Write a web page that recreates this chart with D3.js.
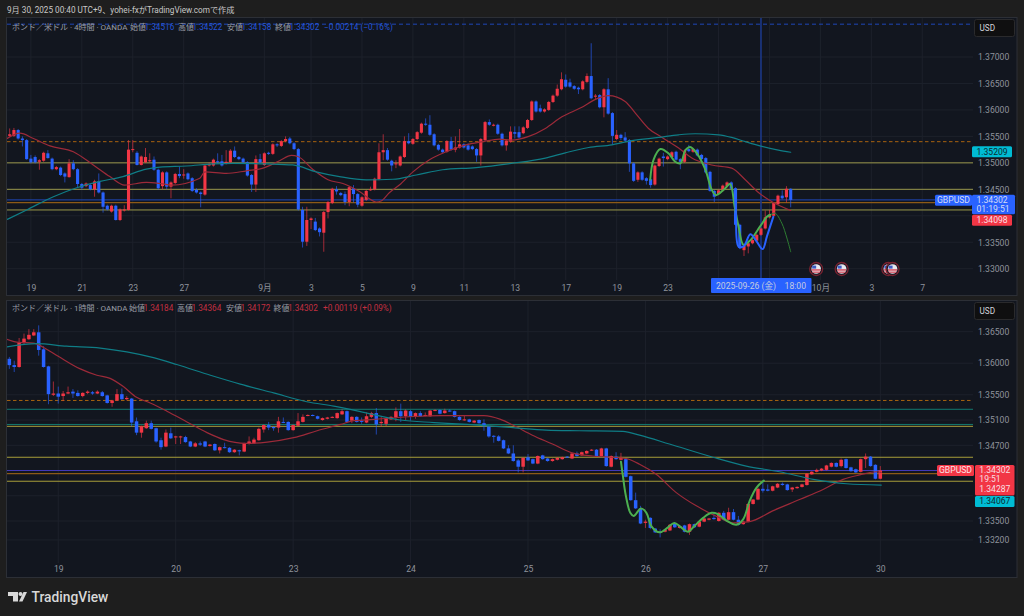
<!DOCTYPE html>
<html><head><meta charset="utf-8">
<script src="https://cdn.jsdelivr.net/npm/d3@7"></script>
<style>
html,body{margin:0;padding:0;background:#1e1e1e;overflow:hidden}
svg{display:block}
text{font-family:Roboto,"Noto Sans CJK JP",sans-serif}
</style></head><body><div id="c"></div>
<script>
// Prices are stored in units of 0.0001 (13430 = 1.34300)
const topOpen=[13551,13551,13562,13546,13543,13508,13511,13502,13504,13518,
13508,13488,13491,13480,13473,13499,13488,13460,13456,13458,
13450,13465,13444,13419,13408,13419,13392,13410,13411,13525,
13519,13496,13501,13503,13506,13487,13456,13482,13455,13462,
13479,13477,13480,13471,13449,13444,13440,13495,13495,13503,
13503,13499,13501,13523,13511,13508,13501,13477,13459,13507,
13496,13519,13517,13535,13532,13541,13546,13537,13526,13411,
13351,13392,13389,13376,13368,13407,13424,13450,13443,13441,
13426,13452,13441,13419,13430,13449,13450,13469,13520,13524,
13504,13498,13495,13511,13541,13536,13545,13557,13574,13572,
13554,13534,13525,13521,13541,13525,13529,13535,13533,13531,
13526,13514,13543,13577,13571,13572,13555,13533,13540,13558,
13558,13556,13566,13581,13616,13603,13597,13600,13615,13627,
13639,13657,13652,13645,13642,13639,13653,13664,13625,13628,
13605,13639,13594,13545,13553,13548,13543,13499,13468,13482,
13471,13469,13459,13494,13512,13507,13511,13521,13507,13502,
13526,13521,13525,13515,13509,13483,13447,13441,13448,13456,
13463,13452,13383,13335,13342,13348,13353,13364,13376,13397,
13400,13422,13438,13435,13451];
const topClose=[13554,13562,13546,13543,13507,13501,13501,13505,13519,13509,
13488,13492,13477,13474,13499,13488,13460,13453,13461,13450,
13465,13444,13417,13412,13419,13392,13412,13412,13525,13526,
13496,13512,13511,13505,13487,13452,13482,13455,13463,13479,
13475,13478,13469,13447,13444,13441,13495,13498,13506,13502,
13495,13502,13523,13511,13507,13501,13476,13459,13507,13501,
13518,13517,13535,13533,13541,13545,13537,13526,13412,13351,
13392,13395,13373,13369,13407,13426,13451,13446,13439,13426,
13454,13441,13421,13435,13447,13450,13470,13520,13524,13506,
13495,13499,13512,13541,13537,13545,13558,13574,13572,13553,
13533,13525,13520,13541,13525,13529,13535,13529,13525,13526,
13514,13545,13577,13572,13572,13555,13533,13542,13559,13555,
13548,13567,13581,13616,13597,13597,13601,13615,13627,13640,
13658,13644,13644,13640,13639,13654,13664,13622,13627,13605,
13639,13593,13551,13553,13547,13542,13499,13466,13482,13468,
13466,13458,13495,13508,13509,13512,13520,13506,13502,13523,
13522,13526,13514,13507,13482,13447,13436,13448,13457,13463,
13451,13383,13339,13343,13348,13354,13364,13376,13397,13402,
13424,13438,13433,13451,13430];
const topHigh=[13565,13566,13564,13550,13545,13515,13514,13507,13521,13524,
13510,13494,13493,13482,13507,13505,13490,13462,13463,13460,
13468,13480,13446,13421,13421,13421,13414,13420,13543,13543,
13522,13514,13528,13518,13512,13489,13484,13484,13465,13481,
13493,13488,13482,13473,13452,13446,13497,13501,13508,13518,
13515,13524,13526,13531,13513,13510,13503,13479,13514,13517,
13520,13521,13537,13537,13543,13550,13549,13539,13528,13417,
13417,13397,13396,13378,13409,13428,13453,13456,13445,13446,
13456,13458,13443,13437,13449,13455,13472,13537,13554,13528,
13506,13505,13514,13550,13556,13547,13560,13576,13584,13590,
13556,13536,13527,13543,13549,13550,13564,13537,13537,13533,
13528,13547,13579,13582,13574,13574,13557,13544,13569,13569,
13569,13569,13583,13618,13618,13610,13603,13617,13629,13648,
13671,13667,13659,13647,13644,13656,13669,13726,13630,13630,
13641,13660,13596,13562,13555,13558,13545,13501,13484,13484,
13473,13471,13497,13510,13519,13514,13522,13523,13509,13525,
13534,13528,13527,13517,13511,13485,13449,13450,13459,13465,
13465,13454,13385,13345,13352,13356,13366,13378,13410,13411,
13426,13440,13448,13456,13452];
const topLow=[13549,13549,13544,13531,13506,13499,13499,13487,13502,13508,
13486,13486,13475,13463,13472,13486,13453,13449,13454,13448,
13436,13442,13406,13410,13406,13391,13390,13408,13410,13520,
13495,13495,13500,13501,13485,13449,13450,13450,13433,13460,
13471,13470,13467,13445,13442,13416,13438,13493,13493,13498,
13493,13497,13499,13509,13505,13499,13474,13445,13445,13499,
13494,13515,13515,13530,13530,13539,13535,13524,13410,13340,
13343,13375,13371,13361,13332,13395,13422,13440,13437,13420,
13418,13425,13416,13417,13428,13447,13448,13467,13505,13504,
13484,13490,13493,13509,13535,13534,13543,13555,13570,13551,
13531,13523,13518,13519,13523,13520,13527,13527,13523,13524,
13502,13495,13541,13570,13569,13553,13531,13523,13538,13546,
13546,13554,13564,13579,13595,13595,13595,13598,13613,13625,
13637,13642,13642,13638,13630,13637,13651,13620,13619,13603,
13586,13591,13534,13543,13543,13540,13483,13464,13464,13466,
13459,13453,13457,13492,13493,13505,13509,13504,13488,13500,
13520,13519,13512,13505,13480,13445,13426,13439,13446,13454,
13449,13381,13337,13324,13329,13346,13351,13362,13374,13395,
13398,13420,13431,13425,13416];

const botOpen=[13607,13597,13594,13633,13638,13644,13649,13622,13595,13550,
13552,13548,13552,13555,13553,13548,13553,13554,13552,13554,
13549,13537,13541,13551,13543,13544,13508,13490,13497,13505,
13497,13478,13468,13489,13483,13483,13483,13476,13468,13473,
13476,13469,13472,13462,13467,13466,13459,13462,13460,13472,
13473,13478,13495,13502,13499,13498,13507,13507,13494,13501,
13507,13517,13518,13516,13510,13512,13514,13513,13519,13524,
13509,13515,13509,13506,13515,13521,13505,13504,13511,13514,
13524,13516,13524,13515,13521,13517,13516,13525,13526,13521,
13525,13524,13515,13510,13511,13506,13510,13505,13500,13485,
13484,13478,13465,13457,13446,13436,13451,13448,13441,13454,
13449,13445,13447,13448,13452,13449,13457,13454,13457,13462,
13463,13453,13465,13436,13452,13447,13448,13421,13383,13370,
13347,13355,13338,13333,13333,13335,13346,13339,13343,13333,
13345,13341,13349,13352,13355,13350,13363,13352,13364,13352,
13345,13349,13377,13384,13401,13400,13398,13403,13409,13408,
13400,13402,13404,13407,13424,13428,13430,13431,13436,13442,
13437,13448,13435,13432,13428,13448,13452,13439,13417];
const botClose=[13597,13594,13633,13639,13645,13649,13621,13594,13551,13552,
13547,13552,13554,13552,13548,13553,13555,13552,13555,13548,
13537,13541,13551,13543,13545,13506,13490,13500,13505,13496,
13476,13467,13490,13481,13484,13484,13475,13468,13473,13471,
13468,13471,13462,13467,13466,13459,13463,13461,13473,13476,
13479,13496,13502,13498,13497,13508,13506,13494,13502,13508,
13515,13518,13517,13512,13513,13514,13515,13521,13524,13507,
13515,13507,13507,13516,13521,13503,13507,13513,13515,13524,
13516,13525,13515,13521,13516,13518,13525,13526,13520,13525,
13524,13515,13510,13511,13507,13509,13505,13500,13484,13484,
13477,13465,13457,13445,13436,13450,13446,13441,13453,13448,
13445,13448,13450,13451,13451,13457,13453,13459,13461,13463,
13453,13465,13437,13453,13448,13450,13420,13383,13370,13346,
13349,13339,13332,13331,13336,13344,13340,13342,13333,13345,
13340,13349,13354,13354,13353,13363,13352,13364,13352,13344,
13349,13377,13384,13401,13398,13398,13405,13409,13407,13399,
13403,13404,13408,13425,13428,13431,13433,13438,13442,13436,
13447,13434,13429,13427,13448,13452,13437,13417,13430];
const botHigh=[13610,13604,13640,13647,13654,13654,13660,13627,13596,13571,
13563,13556,13563,13559,13557,13554,13557,13556,13557,13556,
13550,13542,13559,13560,13548,13545,13514,13501,13509,13509,
13498,13482,13495,13498,13485,13485,13485,13477,13475,13476,
13477,13472,13473,13468,13474,13467,13464,13463,13474,13484,
13482,13498,13503,13507,13500,13515,13514,13508,13503,13521,
13519,13519,13519,13517,13514,13515,13516,13522,13527,13525,
13516,13516,13514,13522,13523,13529,13515,13514,13516,13530,
13536,13527,13526,13522,13524,13522,13526,13527,13527,13528,
13527,13525,13516,13518,13512,13510,13511,13511,13501,13486,
13486,13479,13470,13470,13448,13451,13456,13449,13454,13455,
13450,13449,13451,13452,13453,13458,13460,13460,13462,13464,
13464,13466,13466,13454,13459,13458,13450,13422,13395,13374,
13352,13356,13339,13337,13337,13345,13348,13343,13344,13346,
13346,13350,13355,13355,13363,13364,13366,13371,13369,13358,
13350,13378,13385,13403,13411,13408,13406,13410,13411,13409,
13404,13405,13409,13426,13429,13433,13434,13439,13443,13443,
13449,13449,13436,13433,13449,13457,13453,13440,13437];
const botLow=[13591,13586,13593,13630,13637,13643,13612,13593,13535,13548,
13536,13540,13551,13545,13547,13546,13551,13550,13551,13547,
13536,13531,13540,13542,13541,13500,13486,13482,13496,13495,
13474,13463,13467,13480,13472,13472,13474,13467,13467,13469,
13467,13468,13461,13457,13465,13458,13458,13454,13459,13471,
13472,13477,13490,13494,13493,13490,13505,13493,13493,13500,
13506,13516,13516,13511,13509,13511,13513,13512,13518,13506,
13505,13506,13504,13505,13513,13487,13499,13500,13510,13508,
13507,13510,13509,13512,13515,13516,13515,13524,13519,13520,
13523,13514,13509,13509,13506,13505,13504,13493,13482,13474,
13476,13464,13456,13444,13427,13427,13445,13440,13440,13447,
13444,13444,13446,13447,13450,13448,13452,13453,13456,13461,
13452,13452,13436,13435,13447,13446,13419,13382,13369,13345,
13339,13337,13331,13324,13332,13334,13339,13338,13332,13328,
13339,13340,13348,13351,13352,13349,13351,13351,13351,13343,
13344,13348,13376,13383,13395,13397,13397,13402,13406,13398,
13396,13401,13403,13406,13423,13427,13429,13430,13435,13435,
13435,13433,13428,13426,13427,13434,13436,13416,13416];

// Overlay lines: [candle position, price]
const topRedMA=[[-0.6,13546],[2.4,13556],[5.6,13546],[9.5,13532],[15,13521],[19.7,13496],[23.6,13474],[27.1,13458],[32.2,13463],[35.4,13461],[38.1,13458],[44.8,13471],[46,13483],[51,13480],[55.8,13485],[59.7,13490],[63.6,13504],[66.4,13514],[67.9,13512],[71.5,13487],[75,13468],[78.5,13461],[82.4,13446],[86.4,13426],[87.5,13428],[89.5,13444],[91.8,13458],[95,13483],[98.9,13506],[102.8,13521],[107.5,13534],[111.5,13540],[115.4,13545],[118.2,13543],[122.3,13550],[126.2,13565],[130.1,13587],[134.8,13605],[138,13620],[141.1,13627],[145,13616],[147.4,13594],[150.5,13565],[153.7,13548],[157.6,13528],[160.7,13509],[165.4,13496],[170.1,13490],[173.3,13468],[176.4,13444],[179.5,13427],[184,13410]];
const topTealMA=[[-0.6,13393],[4,13411],[10.3,13436],[15.8,13453],[21.3,13465],[26.7,13474],[32.2,13488],[35.4,13492],[41.6,13494],[47.9,13498],[52.6,13499],[60.5,13498],[66.7,13496],[72.2,13483],[77.7,13474],[84,13468],[90.3,13469],[95.8,13477],[102,13487],[109.9,13491],[118.2,13499],[126.2,13509],[130.9,13519],[136.4,13529],[141.9,13534],[146.6,13542],[152.9,13548],[157.6,13553],[161.5,13555],[167,13553],[170.1,13548],[173.3,13540],[177.2,13531],[181.1,13524],[184,13520]];
const topGreenThick=[[150.9,13468],[151.7,13506],[153.3,13526],[155.2,13518],[156.8,13502],[158,13499],[159.2,13524],[160.3,13530],[161.9,13518],[163.9,13487],[165.4,13449],[166.4,13439],[168.2,13449],[169.7,13460],[170.8,13417],[171.7,13380],[172.9,13345],[174.5,13354],[176.8,13380],[178.4,13398],[179.2,13402]];
const topGreenThin=[[179.2,13402],[180.3,13405],[181.9,13386],[183.1,13358],[184,13332]];
const topBlueThick=[[170.8,13449],[171.1,13405],[171.7,13342],[172.9,13342],[174.5,13365],[176,13351],[177.4,13337],[178.4,13361],[179.9,13398]];

const botRedMA=[[-0.5,13638],[2,13633],[4.9,13632],[7,13625],[10,13611],[14.5,13591],[17.9,13581],[20.6,13576],[23.3,13563],[26,13546],[28.8,13537],[32.2,13524],[36.3,13507],[40.4,13490],[43.8,13479],[48.2,13473],[52.7,13475],[58.1,13482],[62.9,13493],[67.7,13503],[70.4,13509],[74.5,13511],[79.3,13514],[84,13516],[88.1,13517],[92.2,13517],[97,13517],[100.4,13511],[102.9,13502],[106.9,13486],[111,13472],[115,13458],[119.2,13453],[123.3,13451],[126,13449],[128.8,13440],[132.2,13424],[136.3,13395],[140.4,13374],[145.2,13355],[147.9,13347],[151.3,13349],[156,13366],[161.5,13384],[166.3,13400],[170.4,13416],[173.8,13423],[177.2,13428],[178.2,13427]];
const botTealMA=[[-0.5,13626],[5.6,13631],[11.7,13627],[18.6,13624],[24,13618],[28.8,13610],[34.2,13598],[41.1,13581],[47.2,13567],[54,13553],[60.8,13539],[66.3,13532],[73.1,13521],[79.9,13510],[86.8,13506],[93.6,13503],[102.9,13498],[109.7,13494],[116.5,13493],[125.4,13492],[128.8,13486],[134.9,13472],[143.8,13451],[150.6,13437],[157.4,13428],[164.3,13416],[171.1,13409],[178.2,13407]];
const botGreenThick=[[125,13444],[125.4,13421],[126,13390],[126.9,13363],[127.6,13358],[129.1,13370],[130.2,13363],[131.2,13342],[132.9,13332],[134.6,13340],[135.9,13347],[137.3,13340],[138.7,13333],[140,13342],[141.8,13355],[143.5,13363],[144.8,13361],[146.5,13351],[148.6,13344],[150,13353],[151.3,13382],[152.7,13403],[154.2,13414]];

// Horizontal levels
const topYellow=[13500,13450,13411], topOrange=[13425], topOrangeDash=[13540], topBlueLine=[13430], topBlueDash=[13762];
const botYellow=[13500,13451,13413], botTeal=[13527,13503], botOrange=[13425], botOrangeDash=[13541], botPurple=[13430];

// Axis ticks
const topPriceTicks=[13700,13650,13600,13550,13500,13450,13350,13300];
const topPriceGrid=[13700,13650,13600,13550,13500,13450,13400,13350,13300];
const botPriceTicks=[13650,13600,13550,13510,13470,13350,13320];
const botPriceGrid=[13650,13600,13550,13510,13470,13430,13390,13350,13320];
const topTimePos=[5,17,29,41,60,71,83,95,107,119,131,143,155,191,203,215];
const topTimeLabels=["19","21","23","27","9月","3","5","9","11","13","17","19","23","10月","3","7"];
const topTimeGridExtra=[167,179];
const botTimePos=[10,34,58,82,106,130,154,178];
const botTimeLabels=["19","20","23","24","25","26","27","30"];
const flagPos=[190,196,207,208];
const crossPos=177;

const W=1024,H=616;
const RED="#f23645",BLUE="#2962ff",PANE="#12161f";
const svg=d3.select("#c").append("svg").attr("width",W).attr("height",H);
svg.append("rect").attr("width",W).attr("height",H).attr("fill","#1e1e1e");

function pane(cfg){
  const g=svg.append("g");
  g.append("rect").attr("x",6.5).attr("y",cfg.top+.5).attr("width",1010.5).attr("height",cfg.bottom-cfg.top)
    .attr("fill",PANE).attr("stroke","#2c2f36");
  const x=d3.scaleLinear().domain(cfg.xd).range(cfg.xr);
  const y=d3.scaleLinear().domain(cfg.yd).range(cfg.yr);
  const id=cfg.id;
  g.append("clipPath").attr("id",id).append("rect").attr("x",7).attr("y",cfg.top+1).attr("width",966).attr("height",cfg.plotBottom-cfg.top-1);
  const plot=g.append("g").attr("clip-path",`url(#${id})`);
  // grid
  plot.selectAll(".gh").data(cfg.grid).join("line").attr("x1",7).attr("x2",973).attr("y1",d=>y(d)).attr("y2",d=>y(d)).attr("stroke","#1d212b");
  plot.selectAll(".gv").data(cfg.timePos.concat(cfg.gridExtra||[])).join("line").attr("y1",cfg.top).attr("y2",cfg.plotBottom).attr("x1",d=>x(d)).attr("x2",d=>x(d)).attr("stroke","#1d212b");
  // levels
  cfg.levels.forEach(l=>{
    plot.selectAll(null).data(l.v).join("line").attr("x1",7).attr("x2",973).attr("y1",d=>y(d)).attr("y2",d=>y(d))
      .attr("stroke",l.c).attr("stroke-width",l.w||1).attr("stroke-dasharray",l.dash||null);
  });
  if(cfg.cross!=null) plot.append("line").attr("x1",x(cfg.cross)).attr("x2",x(cfg.cross)).attr("y1",cfg.top).attr("y2",cfg.plotBottom).attr("stroke","#1c3888").attr("stroke-width",1.6);
  // candles
  const n=cfg.o.length, idx=d3.range(n);
  const col=i=>cfg.c[i]>=cfg.o[i]?RED:BLUE;
  plot.selectAll(".w").data(idx).join("line").attr("x1",d=>x(d)).attr("x2",d=>x(d)).attr("y1",i=>y(cfg.h[i])).attr("y2",i=>y(cfg.l[i])).attr("stroke",col).attr("stroke-width",.8).attr("stroke-opacity",.8);
  plot.selectAll(".b").data(idx).join("rect").attr("x",i=>x(i)-cfg.bw/2).attr("width",cfg.bw)
    .attr("y",i=>y(Math.max(cfg.o[i],cfg.c[i]))).attr("height",i=>Math.max(1,Math.abs(y(cfg.o[i])-y(cfg.c[i])))).attr("fill",col);
  // overlays
  const ln=d3.line().x(d=>x(d[0])).y(d=>y(d[1])).curve(d3.curveMonotoneX);
  const sm=d3.line().x(d=>x(d[0])).y(d=>y(d[1])).curve(d3.curveCatmullRom.alpha(.5));
  cfg.lines.forEach(l=>{
    plot.append("path").attr("d",(l.smooth?sm:ln)(l.d)).attr("fill","none").attr("stroke",l.c).attr("stroke-width",l.w).attr("stroke-linecap","round");
  });
  // axes
  const ax=d3.axisRight(y).tickValues(cfg.priceTicks).tickSize(0).tickPadding(0).tickFormat(d=>(d/10000).toFixed(5));
  const ag=g.append("g").attr("transform","translate(978,0)").call(ax);
  ag.select(".domain").remove();
  ag.selectAll("text").attr("fill","#8f939c").attr("font-size",8.6);
  const tx=d3.axisBottom(x).tickValues(cfg.timePos).tickSize(0).tickPadding(0).tickFormat((d,i)=>cfg.timeLabels[i]);
  const tg=g.append("g").attr("transform",`translate(0,${cfg.timeY})`).call(tx);
  tg.select(".domain").remove();
  tg.selectAll("text").attr("fill","#8f939c").attr("font-size",8.6).attr("dy",0).attr("y",8);
  // USD box
  g.append("rect").attr("x",974.5).attr("y",cfg.top+2.5).attr("width",40).attr("height",17).attr("rx",2).attr("fill","#0f0f10").attr("stroke","#2a2a2c");
  g.append("text").attr("x",979.5).attr("y",cfg.top+14).attr("fill","#d1d4dc").attr("font-size",8.2).text("USD");
  return {g,x,y};
}

function legend(g,y,name,vals,col,change,xs){
  g.append("text").attr("x",12).attr("y",y).attr("fill","#9a9ea6").attr("font-size",8).text(name);
  const lab=["始値","高値","安値","終値"];
  vals.forEach((v,i)=>{
    g.append("text").attr("x",xs[i]).attr("y",y).attr("fill","#9a9ea6").attr("font-size",8).text(lab[i]);
    g.append("text").attr("x",xs[i]+14.5).attr("y",y).attr("fill",col).attr("font-size",8.2).text(v);
  });
  g.append("text").attr("x",xs[4]).attr("y",y).attr("fill",col).attr("font-size",8.2).text(change);
}
function tag(g,x,y,w,h,fill,lines,color,rx){
  g.append("rect").attr("x",x).attr("y",y).attr("width",w).attr("height",h).attr("rx",rx||1.5).attr("fill",fill);
  lines.forEach(l=>g.append("text").attr("x",l.x!=null?l.x:x+w/2).attr("y",y+l.dy).attr("text-anchor","middle").attr("fill",color).attr("font-size",8.6).text(l.t));
}

// Top pane
const T=pane({id:"t",top:17,bottom:295,plotBottom:280,xd:[0,184],xr:[9.67,790.7],yd:[13700,13300],yr:[57,268.7],
  o:topOpen,c:topClose,h:topHigh,l:topLow,bw:3.1,grid:topPriceGrid,timePos:topTimePos,timeLabels:topTimeLabels,gridExtra:topTimeGridExtra,
  priceTicks:topPriceTicks,timeY:283,cross:crossPos,
  levels:[{v:topBlueDash,c:"#1f47b8",dash:"4 3"},{v:topOrangeDash,c:"#a8630f",w:1,dash:"3.5 2.5"},{v:topYellow,c:"#99964a"},{v:topBlueLine,c:"#1f47b8"},{v:topOrange,c:"#8c5a17",w:1.3}],
  lines:[{d:topRedMA,c:"#9c2a39",w:1.2},{d:topTealMA,c:"#0f7d86",w:1.2},{d:topGreenThin,c:"#2e7d32",w:1,smooth:1},{d:topGreenThick,c:"#4caf50",w:2,smooth:1},{d:topBlueThick,c:BLUE,w:2,smooth:1}]});
legend(T.g,29.5,"ポンド／米ドル · 4時間 · OANDA",["1.34516","1.34522","1.34158","1.34302"],"#2555d8","−0.00214 (−0.16%)",[130,178,227,275,324]);
// crosshair date
T.g.append("rect").attr("x",711).attr("y",278).attr("width",100.5).attr("height",15).attr("rx",1).attr("fill",BLUE);
T.g.append("text").attr("x",761).attr("y",289).attr("text-anchor","middle").attr("fill","#c5cbe0").attr("font-size",8.6).attr("style","white-space:pre").text("2025-09-26 (金)    18:00");
// events
flagPos.forEach(p=>{
  const cx=T.x(p),cy=269;
  T.g.append("circle").attr("cx",cx).attr("cy",cy).attr("r",6.5).attr("fill","#131722").attr("stroke","#7a2230").attr("stroke-width",1.3);
  T.g.append("circle").attr("cx",cx).attr("cy",cy).attr("r",4.8).attr("fill","#e8e8ee");
  T.g.append("rect").attr("x",cx-4.6).attr("y",cy+.3).attr("width",9.2).attr("height",1.3).attr("fill","#d5394a");
  T.g.append("rect").attr("x",cx-3.8).attr("y",cy+2.6).attr("width",7.6).attr("height",1.1).attr("fill","#d5394a");
  T.g.append("rect").attr("x",cx-4).attr("y",cy-3.4).attr("width",4).attr("height",3).attr("fill","#3d5bc4");
});
// price tags
const ty=T.y(13430.2);
tag(T.g,972,T.y(13520.9)-5.5,40,11,"#00bcd4",[{t:"1.35209",dy:8.3}],"#0c2a30");
tag(T.g,935,ty-5,37,11,BLUE,[{t:"GBPUSD",dy:8.3}],"#d6dcf5");
tag(T.g,972,ty-5,43,19.5,BLUE,[{t:"1.34302",dy:8.3,x:992},{t:"01:19:51",dy:17,x:993}],"#d6dcf5");
tag(T.g,972,ty+15,40,11,RED,[{t:"1.34098",dy:8.3}],"#f8dfe2");

// Bottom pane
const B=pane({id:"b",top:300,bottom:577,plotBottom:563,xd:[0,178],xr:[9.33,880.3],yd:[13650,13350],yr:[331.67,521],
  o:botOpen,c:botClose,h:botHigh,l:botLow,bw:3.5,grid:botPriceGrid,timePos:botTimePos,timeLabels:botTimeLabels,
  priceTicks:botPriceTicks,timeY:564,
  levels:[{v:botOrangeDash,c:"#a8630f",w:1,dash:"3.5 2.5"},{v:botTeal,c:"#137a70"},{v:botYellow,c:"#a89e3a"},{v:botPurple,c:"#4338b8"},{v:botOrange,c:"#8c5a17",w:1.3}],
  lines:[{d:botRedMA,c:"#9c2a39",w:1.2},{d:botTealMA,c:"#0f7d86",w:1.2},{d:botGreenThick,c:"#4caf50",w:2,smooth:1}]});
legend(B.g,311,"ポンド／米ドル · 1時間 · OANDA",["1.34184","1.34364","1.34172","1.34302"],"#c22f3f","+0.00119 (+0.09%)",[129,177,226,273.5,323]);
const by=B.y(13430.2);
tag(B.g,937,by-5.5,37,11,RED,[{t:"GBPUSD",dy:8.3}],"#fbe4e6");
tag(B.g,975,by-5.5,39.5,30.5,RED,[{t:"1.34302",dy:8.3},{t:"19:51",dy:17.3,x:990},{t:"1.34287",dy:27}],"#f8dfe2");
tag(B.g,975,by+25.5,39.5,11,"#00bcd4",[{t:"1.34067",dy:8.3}],"#0c2a30");

// Header
svg.append("text").attr("x",7).attr("y",13).attr("fill","#c8c8c8").attr("font-size",8.2).text("9月 30, 2025 00:40 UTC+9、yohei-fxがTradingView.comで作成");
// Footer logo
const lg=svg.append("g").attr("fill","#d8d8d8");
lg.append("path").attr("d","M8 592h10v9.5h-5v-5.5h-5z");
lg.append("circle").attr("cx",20.5).attr("cy",594).attr("r",2);
lg.append("path").attr("d","M19 601.5L23.5 592H27L22.5 601.5Z");
svg.append("text").attr("x",31.5).attr("y",601.5).attr("fill","#d8d8d8").attr("font-family","Inter").attr("font-weight",500).attr("font-size",13.8).text("TradingView");
</script></body></html>
